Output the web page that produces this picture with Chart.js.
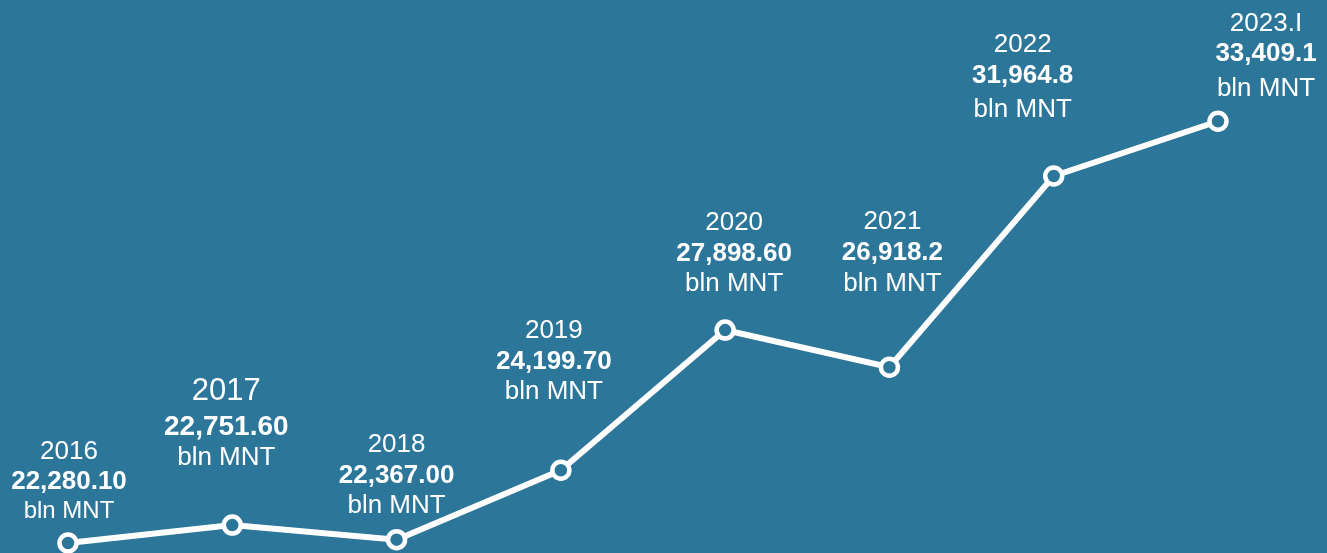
<!DOCTYPE html>
<html lang="en">
<head>
  <meta charset="UTF-8" />
  <title>Budget revenue, bln MNT</title>
  <script src="https://cdn.jsdelivr.net/npm/chart.js"></script>
  <style>
    html, body { margin: 0; padding: 0; background: #2c769a; }
    .wrap { width: 1327px; height: 553px; position: relative; }
  </style>
</head>
<body>
  <div class="wrap"><canvas id="revChart"></canvas></div>
  <script>
    // data
    const years = ['2016', '2017', '2018', '2019', '2020', '2021', '2022', '2023.I'];
    const values = [22280.10, 22751.60, 22367.00, 24199.70, 27898.60, 26918.2, 31964.8, 33409.1];
    const valueLabels = ['22,280.10', '22,751.60', '22,367.00', '24,199.70', '27,898.60', '26,918.2', '31,964.8', '33,409.1'];
    const unitLabel = 'bln MNT';

    // label placement relative to each point (year line centre)
    const labelDx = [1, -6, 0, -7, 9, 3, -31, 48];
    const labelDy = [-91, -134, -95, -139, -107, -145, -131, -97];
    const gapValue = [30, 36, 31, 31, 31, 31, 31, 30];
    const gapUnit = [29, 31, 30, 30, 30, 31, 34, 35];
    const yearSize = [26, 31, 26, 26, 26, 26, 26, 26];
    const valueSize = [26, 28, 26, 26, 26, 26, 26, 26];
    const unitSize = [24, 26, 26, 26, 26, 26, 26, 26];

    const BG = '#2c769a';
    const FONT = "'Liberation Sans', Arial, sans-serif";

    const pointLabels = {
      id: 'pointLabels',
      afterDatasetsDraw(chart) {
        const ctx = chart.ctx;
        const meta = chart.getDatasetMeta(0);
        ctx.save();
        ctx.fillStyle = '#ffffff';
        ctx.textAlign = 'center';
        ctx.textBaseline = 'middle';
        meta.data.forEach((pt, i) => {
          const x = pt.x + labelDx[i];
          let y = pt.y + labelDy[i];
          ctx.font = 'normal ' + yearSize[i] + 'px ' + FONT;
          ctx.fillText(years[i], x, y);
          y += gapValue[i];
          ctx.font = 'bold ' + valueSize[i] + 'px ' + FONT;
          ctx.fillText(valueLabels[i], x, y);
          y += gapUnit[i];
          ctx.font = 'normal ' + unitSize[i] + 'px ' + FONT;
          ctx.fillText(unitLabel, x, y);
        });
        ctx.restore();
      }
    };

    new Chart(document.getElementById('revChart'), {
      type: 'line',
      data: {
        labels: years,
        datasets: [{
          data: values,
          borderColor: '#ffffff',
          borderWidth: 6,
          tension: 0,
          pointRadius: 8.5,
          pointHoverRadius: 8.5,
          pointBorderWidth: 4.5,
          pointBorderColor: '#ffffff',
          pointBackgroundColor: BG,
          clip: false
        }]
      },
      options: {
        responsive: true,
        maintainAspectRatio: false,
        animation: false,
        layout: { autoPadding: false, padding: { left: 68, right: 109, top: 0, bottom: 0 } },
        plugins: { legend: { display: false }, tooltip: { enabled: false } },
        scales: {
          x: { display: false, offset: false },
          y: { display: false, min: 22016, max: 36609 }
        }
      },
      plugins: [pointLabels]
    });
  </script>
</body>
</html>
